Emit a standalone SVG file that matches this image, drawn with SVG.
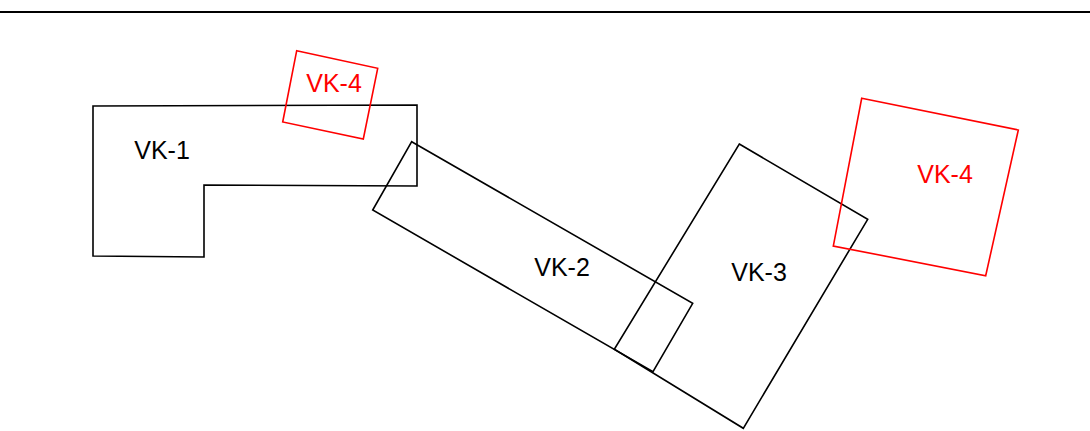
<svg xmlns="http://www.w3.org/2000/svg" width="1090" height="431" viewBox="0 0 1090 431">
<style>
.s{fill:none;stroke:#000;stroke-width:1.6;stroke-linejoin:miter}
.r{fill:none;stroke:#ff0000;stroke-width:1.6}
.t{font-family:"Liberation Sans",Arial,sans-serif;font-size:25px;text-anchor:middle;fill:#000}
.tr{fill:#ff0000}
</style>
<rect width="1090" height="431" fill="#fff"/>
<line x1="0" y1="12" x2="1090" y2="12" stroke="#000" stroke-width="2"/>
<g id="vk1"><path class="s" d="M93,106 L417,105 L417,186 L204,185 L204,257 L93,256 Z"/><text class="t" x="162" y="159">VK-1</text></g>
<g id="vk2"><path class="s" d="M411.7,141.7 L692.7,303.3 L653,371.7 L372.7,210 Z"/><text class="t" x="562" y="276">VK-2</text></g>
<g id="vk3"><path class="s" d="M739.3,144 L867.7,219.3 L743.3,428.3 L614.3,349.3 Z"/><text class="t" x="759" y="281">VK-3</text></g>
<g id="vk4a"><path class="r" d="M296.7,50.7 L377.7,68.3 L363.3,139 L282.7,122 Z"/><text class="t tr" x="334" y="92">VK-4</text></g>
<g id="vk4b"><path class="r" d="M861.7,98.3 L1018.3,130 L985.7,275.7 L833.3,246 Z"/><text class="t tr" x="945" y="183">VK-4</text></g>
<g id="connectors"></g>
</svg>
